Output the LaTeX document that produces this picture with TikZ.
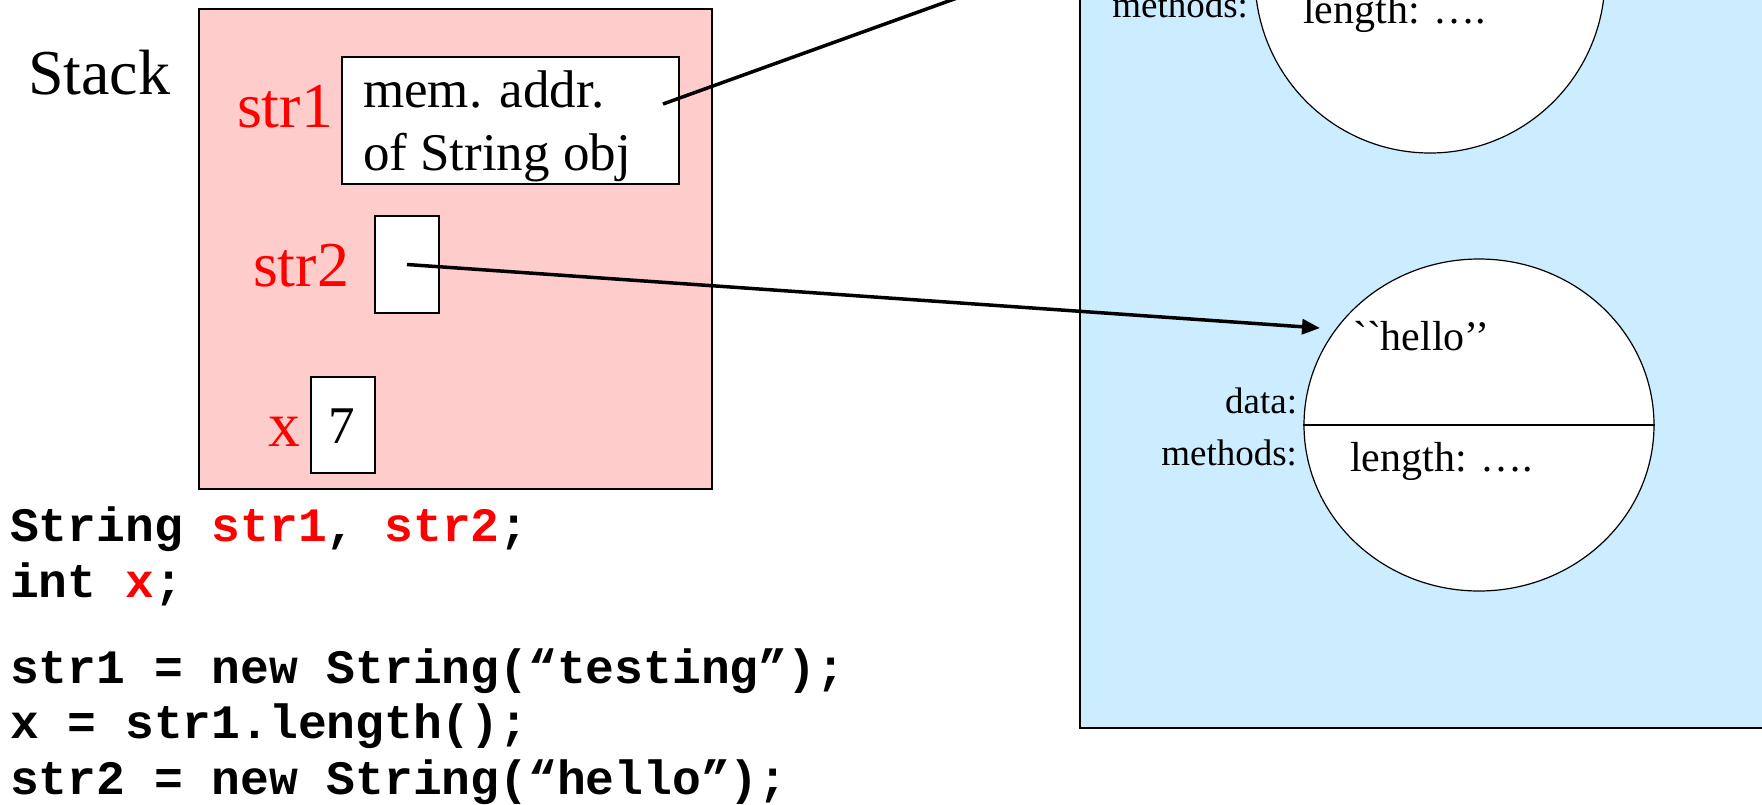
\documentclass[tikz,border=0pt]{standalone}
\usepackage{fontspec}
\setmainfont{Liberation Serif}
\setmonofont{Liberation Mono}
\usetikzlibrary{shapes.geometric,arrows.meta}
\definecolor{stackpink}{RGB}{255,204,204}
\definecolor{heapblue}{RGB}{204,236,255}
\definecolor{varred}{RGB}{255,0,0}
\font\hellofont="Liberation Serif" at 42pt
\begin{document}
\begin{tikzpicture}[x=1pt,y=-1pt,
  txt/.style={inner sep=0pt, outer sep=0pt},
  bigtxt/.style={txt, font=\fontsize{64}{70}\selectfont},
  var/.style={bigtxt, text=varred},
  celltxt/.style={txt, font=\fontsize{53}{60}\selectfont},
  cell/.style={draw, line width=1.2pt, fill=white, inner sep=0pt},
  region/.style={draw, line width=1.2pt, inner sep=0pt},
  obj/.style={ellipse, draw, fill=white, line width=1.2pt, inner sep=0pt, minimum width=350pt},
  small/.style={txt, font=\fontsize{37}{40}\selectfont},
  objtxt/.style={txt, font=\fontsize{42}{46}\selectfont},
  code/.style={txt, font=\fontsize{48}{52}\selectfont\ttfamily\bfseries},
  ptr/.style={line width=3.5pt},
  divider/.style={line width=2pt}]
\useasboundingbox (0,0) rectangle (1762,804);
\clip (0,0) rectangle (1762,804);

% stack region
\node[region, fill=stackpink, minimum width=513pt, minimum height=480pt] (stackbox) at (455.5,249) {};
\node[bigtxt, anchor=base west] (stacklbl) at (28,94) {Stack};

\node[var, anchor=base west] (str1lbl) at (237,127) {str1};
\node[cell, minimum width=337pt, minimum height=127pt] (str1box) at (510.5,120.5) {};
\node[celltxt, anchor=base west] (addr1) at (363,107) {mem. addr.};
\node[celltxt, anchor=base west] (addr2) at (363,170) {of String obj};

\node[var, anchor=base west] (str2lbl) at (253,286) {str2};
\node[cell, minimum width=64pt, minimum height=97pt] (str2box) at (407,264.5) {};

\node[var, anchor=base west] (xlbl) at (268,446) {x};
\node[cell, minimum width=64pt, minimum height=96pt] (xbox) at (343,425) {};
\node[celltxt, anchor=base] (xval) at (342,443) {7};

% heap region
\node[region, fill=heapblue, minimum width=720pt, minimum height=760pt] (heapbox) at (1440,348) {};

\node[obj, minimum height=352pt] (obj1) at (1430,-23) {};
\draw[divider] (obj1.west) -- (obj1.east);
\node[small, anchor=base east] (meth1) at (1248,17) {methods:};
\node[objtxt, anchor=base west] (len1) at (1303,23) {length: ….};

\node[obj, minimum height=332pt] (obj2) at (1479,425) {};
\draw[divider] (obj2.west) -- (obj2.east);
\node[txt, anchor=base west] (hello) at (1353,350) {\hellofont ``hello’’};
\node[small, anchor=base east] (data2) at (1297,413) {data:};
\node[small, anchor=base east] (meth2) at (1297,465) {methods:};
\node[objtxt, anchor=base west] (len2) at (1350,471) {length: ….};

% pointers
\coordinate (addrpt) at (663,104);
\coordinate (obj1ref) at (1240,-104);
\coordinate (hellotip) at (1320,328);
\draw[ptr] (addrpt) -- (obj1ref);
\draw[ptr, -{Triangle[length=18pt,width=15pt]}] (str2box.center) -- (hellotip);

% code
\node[code, anchor=base west] (c1) at (10,541) {String \textcolor{varred}{str1}, \textcolor{varred}{str2};};
\node[code, anchor=base west] (c2) at (10,597) {int \textcolor{varred}{x};};
\node[code, anchor=base west] (c3) at (10,683) {str1 = new String(“testing”);};
\node[code, anchor=base west] (c4) at (10,738) {x = str1.length();};
\node[code, anchor=base west] (c5) at (10,794) {str2 = new String(“hello”);};
\end{tikzpicture}
\end{document}
